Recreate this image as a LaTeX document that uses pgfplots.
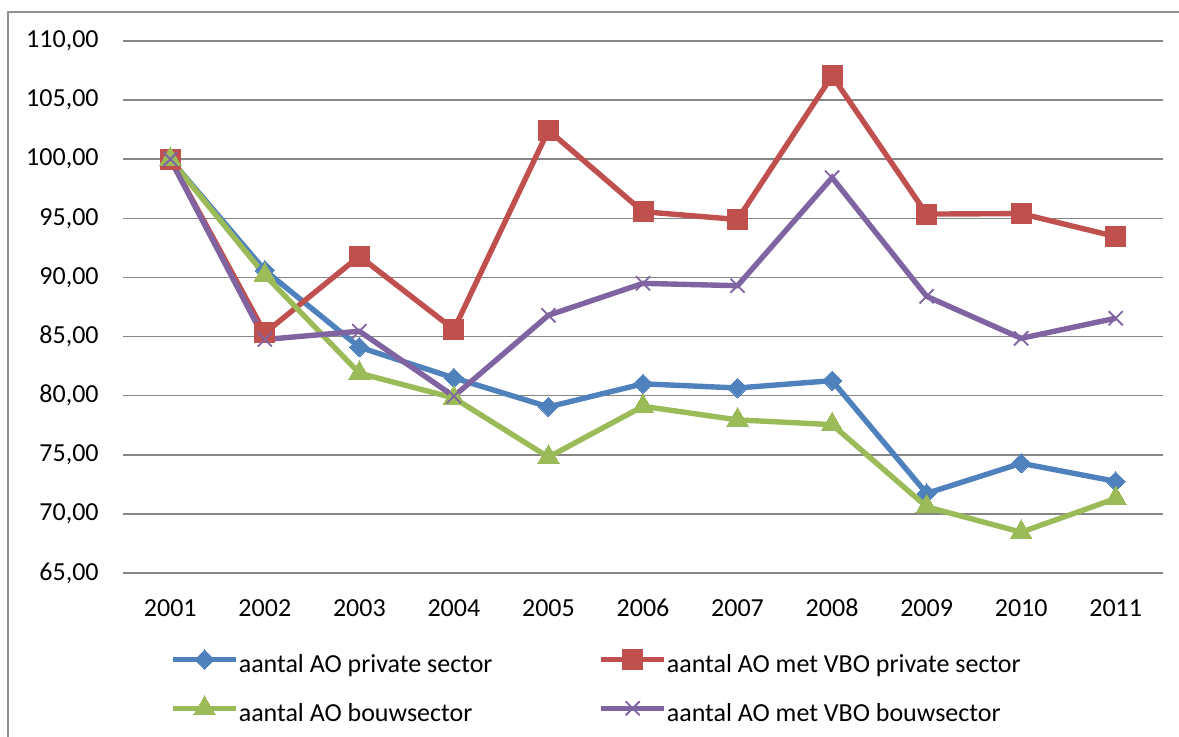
\documentclass[border=0pt]{standalone}
\usepackage{fontspec}
\setmainfont{Carlito}
\usepackage{pgfplots}
\pgfplotsset{compat=1.18}
\definecolor{cblue}{HTML}{4F81BD}
\definecolor{cred}{HTML}{C0504D}
\definecolor{cgreen}{HTML}{9BBB59}
\definecolor{cpurple}{HTML}{8064A2}
\definecolor{cgrid}{HTML}{868686}
\begin{document}
\fontsize{13pt}{15.6pt}\selectfont
\begin{tikzpicture}[x=1pt,y=1pt]
\useasboundingbox (0,0) rectangle (589.5,368.5);
\draw[cgrid!90, line width=1pt] (4,-10) -- (4,362.5) -- (600,362.5);
\begin{axis}[
  at={(61.5pt,82pt)}, anchor=south west,
  scale only axis, width=520pt, height=266pt,
  xmin=-0.5, xmax=10.5, ymin=65, ymax=110,
  xtick={0,...,10},
  xticklabels={2001,2002,2003,2004,2005,2006,2007,2008,2009,2010,2011},
  ytick={65,70,...,110},
  ymajorgrids, grid style={cgrid, line width=0.75pt},
  axis line style={draw=none},
  major tick length=0pt,
  tick label style={font=\fontsize{13pt}{15.6pt}\selectfont},
  /pgf/number format/assume math mode=true,
  yticklabel={\pgfmathprintnumber[fixed, fixed zerofill, precision=2, use comma]{\tick}},
  yticklabel style={anchor=east, inner sep=0pt, xshift=-12pt},
  xticklabel style={anchor=center, inner sep=0pt, yshift=-17.5pt},
  clip=false,
  legend columns=2,
  legend cell align=left,
  legend style={at={(0,0)}, anchor=north west, xshift=23.5pt, yshift=-38pt,
    draw=none, fill=none, inner sep=0pt, font=\fontsize{13pt}{15.6pt}\selectfont,
    /tikz/every odd column/.append style={column sep=0pt},
    /tikz/every even column/.append style={column sep=53pt},
    row sep=9pt,
    nodes={inner sep=0pt, text height=9pt, text depth=2.5pt}},
  legend image code/.code={%
    \draw[#1, mark repeat=2, mark phase=2] plot coordinates {(0pt,3.5pt) (15.75pt,3.5pt) (31.5pt,3.5pt)};},
]
\addplot[cblue, line width=2.7pt, mark=square*, mark size=3.4pt,
  mark options={solid, fill=cblue, draw=cblue, line width=0pt, rotate=45}]
  coordinates {(0,100) (1,90.6) (2,84.1) (3,81.5) (4,79.05) (5,81.0) (6,80.65) (7,81.27) (8,71.73) (9,74.28) (10,72.75)};
\addlegendentry{aantal AO private sector}
\addplot[cred, line width=2.7pt, mark=square*, mark size=5pt,
  mark options={solid, fill=cred, draw=cred, line width=0pt}]
  coordinates {(0,100) (1,85.3) (2,91.8) (3,85.6) (4,102.45) (5,95.56) (6,94.9) (7,107.05) (8,95.36) (9,95.4) (10,93.45)};
\addlegendentry{aantal AO met VBO private sector}
\addplot[cgreen, line width=2.7pt, mark=triangle*, mark size=6.2pt,
  mark options={solid, fill=cgreen, draw=cgreen, line width=0pt}]
  coordinates {(0,100) (1,90.2) (2,81.9) (3,79.8) (4,74.8) (5,79.1) (6,77.95) (7,77.55) (8,70.6) (9,68.45) (10,71.3)};
\addlegendentry{aantal AO bouwsector}
\addplot[cpurple, line width=2.7pt, mark=x, mark size=5pt,
  mark options={solid, draw=cpurple, line width=0.9pt}]
  coordinates {(0,100) (1,84.75) (2,85.45) (3,79.95) (4,86.8) (5,89.5) (6,89.3) (7,98.44) (8,88.4) (9,84.85) (10,86.55)};
\addlegendentry{aantal AO met VBO bouwsector}
\end{axis}
\end{tikzpicture}
\end{document}
